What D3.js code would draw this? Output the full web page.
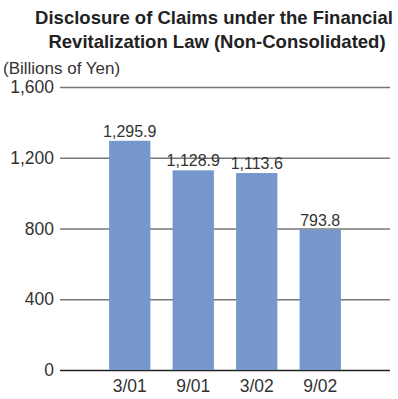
<!DOCTYPE html>
<html>
<head>
<meta charset="utf-8">
<script src="https://cdn.jsdelivr.net/npm/d3@7"></script>
<style>
  html, body { margin: 0; padding: 0; background: #fff; }
  svg { display: block; }
</style>
</head>
<body>
<svg id="chart" width="398" height="399"></svg>
<script>
// Disclosed claims under the Financial Revitalization Law, billions of yen
const periods = ["3/01", "9/01", "3/02", "9/02"];
const claims = [1295.9, 1128.9, 1113.6, 793.8];
const yTicks = [0, 400, 800, 1200, 1600];

const svg = d3.select("#chart");
const font = "'Liberation Sans', Arial, sans-serif";

const x = d3.scaleBand().domain(periods).range([98, 352]).paddingInner(0.35).paddingOuter(0.175);
const y = d3.scaleLinear().domain([0, 1600]).range([370, 87]);

// Title
const title = svg.append("text")
  .attr("text-anchor", "middle")
  .attr("font-family", font)
  .attr("font-weight", "bold")
  .attr("font-size", 18.5)
  .attr("fill", "#222");
title.append("tspan").attr("x", 214).attr("y", 24).text("Disclosure of Claims under the Financial");
title.append("tspan").attr("x", 217).attr("y", 48).text("Revitalization Law (Non-Consolidated)");

svg.append("text")
  .attr("x", 3).attr("y", 73.5)
  .attr("font-family", font).attr("font-size", 17).attr("fill", "#333")
  .text("(Billions of Yen)");

// Horizontal gridlines with tick labels
const yAxis = d3.axisLeft(y).tickValues(yTicks).tickSize(-330).tickPadding(6)
  .tickFormat(d3.format(","));
const gy = svg.append("g").attr("transform", "translate(60,0)").call(yAxis);
gy.select(".domain").remove();
gy.selectAll(".tick line").attr("stroke", d => d === 0 ? "#222" : "#777").attr("stroke-width", 1.5);
gy.selectAll(".tick text").attr("font-family", font).attr("font-size", 17.5).attr("fill", "#333")
  .attr("x", -6);

// Bars
svg.append("g").selectAll("rect").data(claims).join("rect")
  .attr("x", (d, i) => x(periods[i]))
  .attr("width", x.bandwidth())
  .attr("y", d => y(d))
  .attr("height", d => y(0) - y(d))
  .attr("fill", "#7597CB");

// Value labels
svg.append("g").selectAll("text").data(claims).join("text")
  .attr("x", (d, i) => x(periods[i]) + x.bandwidth() / 2)
  .attr("y", d => y(d) - 4)
  .attr("text-anchor", "middle")
  .attr("font-family", font).attr("font-size", 16).attr("fill", "#333")
  .text(d => d3.format(",.1f")(d));

// Category labels
const xAxis = d3.axisBottom(x).tickSize(0).tickPadding(10);
const gx = svg.append("g").attr("transform", "translate(0,370)").call(xAxis);
gx.select(".domain").remove();
gx.selectAll(".tick text").attr("font-family", font).attr("font-size", 17.5).attr("fill", "#333");
</script>
</body>
</html>
